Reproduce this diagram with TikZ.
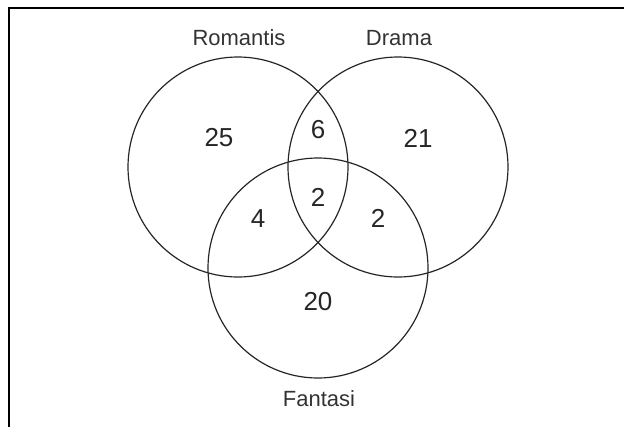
\documentclass[tikz,border=0pt]{standalone}
\usepackage{fontspec}
\setmainfont{Liberation Sans}
\begin{document}
\begin{tikzpicture}[x=1pt,y=-1pt,
  setc/.style={draw=black!85, line width=1.2pt, circle, minimum size=220pt, inner sep=0pt},
  lbl/.style={font=\fontsize{22}{22}\selectfont, text=black!80, inner sep=0pt},
  num/.style={font=\fontsize{26}{26}\selectfont, text=black!85, inner sep=0pt},
  frame/.style={draw=black, line width=2pt}]
\useasboundingbox (0,0) rectangle (624,426);
\coordinate (fr) at (625,7.5);
\coordinate (fc) at (8.5,7.5);
\coordinate (fb) at (8.5,427);
\draw[frame] (fr) -- (fc) -- (fb);
\node[setc] (R) at (238,167) {};
\node[setc] (D) at (398,167) {};
\node[setc] (F) at (318,268) {};
\node[lbl] (lR) at (239,38) {Romantis};
\node[lbl] (lD) at (399,38) {Drama};
\node[lbl] (lF) at (319,399) {Fantasi};
\node[num] (n25) at (219,138) {25};
\node[num] (n6) at (318,130) {6};
\node[num] (n21) at (418,138) {21};
\node[num] (n4) at (258,219) {4};
\node[num] (n2c) at (318,197) {2};
\node[num] (n2r) at (378,218) {2};
\node[num] (n20) at (318,302) {20};
\end{tikzpicture}
\end{document}
